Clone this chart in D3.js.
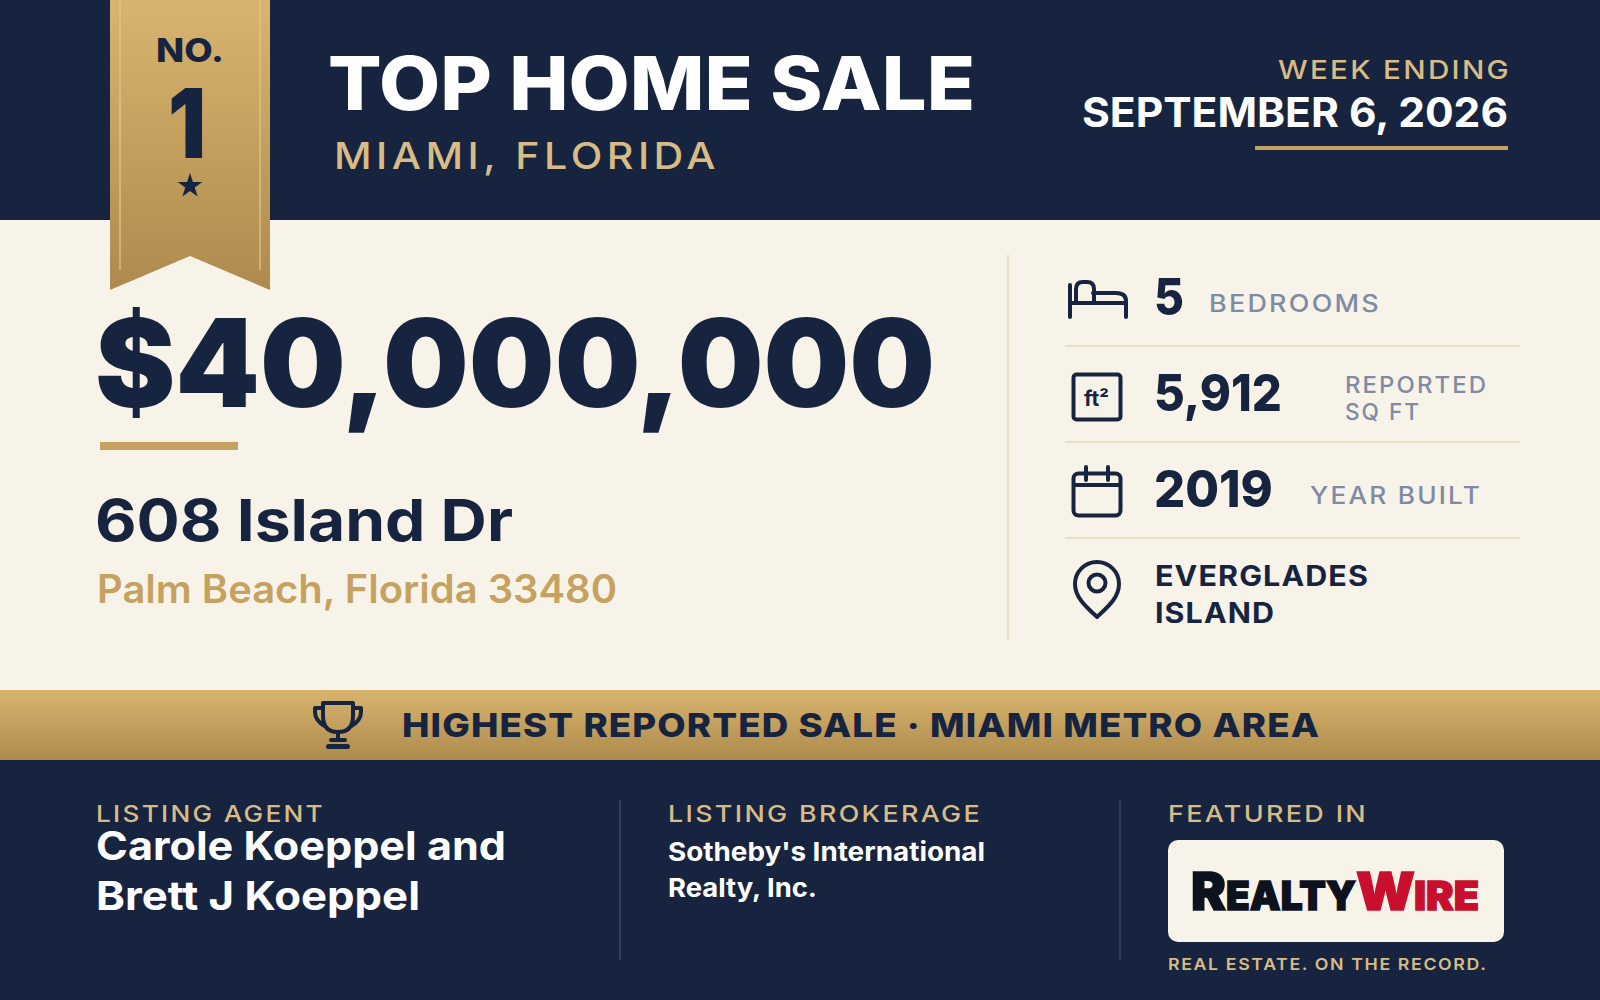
<!DOCTYPE html>
<html>
<head>
<meta charset="utf-8">
<script src="https://cdn.jsdelivr.net/npm/d3@7"></script>
<style>
  html, body { margin: 0; padding: 0; background: #f8f3e9; }
  svg { display: block; }
  text { font-family: Inter, "Open Sans", sans-serif; }
</style>
</head>
<body>
<svg id="chart" width="1600" height="1000"></svg>
<script>
const navy = '#16243f';
const cream = '#f8f3e9';
const gold = '#c6a15f';
const paleGold = '#d8bb85';
const grey = '#7f8ba3';
const rule = '#e6dfc6';

const statValues = ['5', '5,912', '2019'];
const statLabels = [['BEDROOMS'], ['REPORTED', 'SQ FT'], ['YEAR BUILT']];
const neighborhood = ['EVERGLADES', 'ISLAND'];
const footerHeads = ['LISTING AGENT', 'LISTING BROKERAGE', 'FEATURED IN'];
const agentLines = ['Carole Koeppel and', 'Brett J Koeppel'];
const brokerLines = ["Sotheby's International", 'Realty, Inc.'];

const svg = d3.select('#chart');

// same gold fade on the ribbon and the band
const defs = svg.append('defs');
function goldFade(id) {
  const g = defs.append('linearGradient').attr('id', id)
    .attr('x1', 0).attr('y1', 0).attr('x2', 0).attr('y2', 1);
  g.append('stop').attr('offset', 0).attr('stop-color', '#d9b46f');
  g.append('stop').attr('offset', 1).attr('stop-color', '#ae8b4d');
}
goldFade('ribbonFade');
goldFade('bandFade');

// x is the left edge, w the width the text has to fill
function label(str, x, y, size, weight, color, w, spacing) {
  const ls = spacing || 0;
  return svg.append('text')
    .attr('x', x).attr('y', y)
    .attr('font-size', size)
    .attr('font-weight', weight)
    .attr('fill', color)
    .attr('letter-spacing', ls)
    .attr('textLength', w + ls)
    .attr('lengthAdjust', 'spacingAndGlyphs')
    .text(str);
}

function icon(d) {
  return svg.append('path').attr('d', d)
    .attr('fill', 'none').attr('stroke', navy)
    .attr('stroke-width', 4)
    .attr('stroke-linecap', 'round').attr('stroke-linejoin', 'round');
}

// backgrounds
svg.append('rect').attr('width', 1600).attr('height', 1000).attr('fill', cream);
svg.append('rect').attr('width', 1600).attr('height', 220).attr('fill', navy);
svg.append('rect').attr('y', 690).attr('width', 1600).attr('height', 70).attr('fill', 'url(#bandFade)');
svg.append('rect').attr('y', 760).attr('width', 1600).attr('height', 240).attr('fill', navy);

// ribbon
svg.append('path').attr('d', 'M110 0H270V290L190 256L110 290Z').attr('fill', 'url(#ribbonFade)');
[120, 260].forEach(x => {
  svg.append('line').attr('x1', x).attr('x2', x).attr('y1', 0).attr('y2', 270)
    .attr('stroke', '#e3c88f').attr('stroke-width', 2).attr('opacity', 0.6);
});
label('NO.', 156, 62, 33, 800, navy, 68);
label('1', 168, 158, 96, 900, navy, 38);
svg.append('path')
  .attr('d', d3.symbol().type(d3.symbolStar).size(190)())
  .attr('transform', 'translate(190,186)')
  .attr('fill', navy);

// header
label('TOP HOME SALE', 328, 110, 74, 800, '#ffffff', 647);
label('MIAMI, FLORIDA', 334, 169, 37, 500, paleGold, 382, 4);
label('WEEK ENDING', 1278, 79, 26, 500, paleGold, 231, 2);
label('SEPTEMBER 6, 2026', 1082, 127, 41, 700, '#ffffff', 426);
svg.append('rect').attr('x', 1255).attr('y', 146).attr('width', 253).attr('height', 4).attr('fill', gold);

// price block
label('$40,000,000', 95, 407, 122, 900, navy, 840);
svg.append('rect').attr('x', 100).attr('y', 442).attr('width', 138).attr('height', 8).attr('fill', gold);
label('608 Island Dr', 95, 541, 58, 700, navy, 418);
label('Palm Beach, Florida 33480', 97, 603, 39, 600, gold, 520);

svg.append('line').attr('x1', 1008).attr('x2', 1008).attr('y1', 255).attr('y2', 640)
  .attr('stroke', rule).attr('stroke-width', 2.5);

// stat rows
const rowY = d3.scaleLinear().domain([0, 1]).range([315, 411]);
const valueWidths = [30, 128, 119];
statValues.forEach((v, i) => {
  label(v, 1154, rowY(i), 51, 800, navy, valueWidths[i]);
  svg.append('line').attr('x1', 1065).attr('x2', 1520)
    .attr('y1', rowY(i) + 31).attr('y2', rowY(i) + 31)
    .attr('stroke', rule).attr('stroke-width', 2);
});
label(statLabels[0][0], 1209, 312, 24, 500, grey, 170, 2);
label(statLabels[1][0], 1345, 393, 23, 500, grey, 141, 2);
label(statLabels[1][1], 1345, 420, 23, 500, grey, 74, 2);
label(statLabels[2][0], 1310, 504, 24, 500, grey, 170, 2);
label(neighborhood[0], 1155, 586, 28, 700, navy, 213, 1);
label(neighborhood[1], 1155, 623, 28, 700, navy, 119, 1);

// icons
icon('M1070 285V317M1070 303H1126V317M1126 303V301Q1126 293 1116 293H1093M1076 302V289Q1076 282 1083 282H1087Q1094 282 1094 289V302');
svg.append('rect').attr('x', 1073.5).attr('y', 374.5).attr('width', 47).attr('height', 45).attr('rx', 3)
  .attr('fill', 'none').attr('stroke', navy).attr('stroke-width', 4);
label('ft²', 1084, 406, 21, 700, navy, 25);
svg.append('rect').attr('x', 1073.5).attr('y', 473.5).attr('width', 47).attr('height', 42).attr('rx', 5)
  .attr('fill', 'none').attr('stroke', navy).attr('stroke-width', 4);
icon('M1074 485H1120M1086 467V480M1108 467V480');
icon('M1097 617C1085 606 1075 597 1075 584A22 22 0 0 1 1119 584C1119 597 1109 606 1097 617Z');
svg.append('circle').attr('cx', 1097).attr('cy', 583).attr('r', 8.5)
  .attr('fill', 'none').attr('stroke', navy).attr('stroke-width', 4);

// gold band
label('HIGHEST REPORTED SALE · MIAMI METRO AREA', 402, 737, 33, 800, navy, 917, 1);
icon('M323 703H353V716Q353 732 338 732Q323 732 323 716ZM323 708H315V712Q315 721 326 727M353 708H361V712Q361 721 350 727M338 732V740M331 740H345');
svg.append('rect').attr('x', 326).attr('y', 744).attr('width', 24).attr('height', 5).attr('rx', 2.5).attr('fill', navy);

// footer
const footX = d3.scaleOrdinal().domain(footerHeads).range([96, 668, 1168]);
const headWidths = [227, 312, 198];
footerHeads.forEach((h, i) => {
  label(h, footX(h), 822, 23, 500, paleGold, headWidths[i], 2);
});
[620, 1120].forEach(x => {
  svg.append('line').attr('x1', x).attr('x2', x).attr('y1', 800).attr('y2', 960)
    .attr('stroke', '#3a4760').attr('stroke-width', 1.5);
});
label(agentLines[0], 96, 860, 40, 700, '#ffffff', 410);
label(agentLines[1], 96, 910, 40, 700, '#ffffff', 324);
label(brokerLines[0], 668, 861, 26, 700, '#ffffff', 317);
label(brokerLines[1], 668, 897, 26, 700, '#ffffff', 149);

// logo card
svg.append('rect').attr('x', 1168).attr('y', 840).attr('width', 336).attr('height', 102).attr('rx', 10).attr('fill', cream);
function logo(str, x, size, color, w) {
  label(str, x, 910, size, 900, color, w)
    .attr('stroke', color).attr('stroke-width', 1.4);
}
logo('R', 1191, 52, '#0d121f', 35);
logo('EALTY', 1226, 40, '#0d121f', 130);
logo('W', 1356, 52, '#c8102e', 59);
logo('IRE', 1414, 40, '#c8102e', 65);
label('REAL ESTATE. ON THE RECORD.', 1168, 970, 16.5, 600, paleGold, 318, 1.5);
</script>
</body>
</html>
